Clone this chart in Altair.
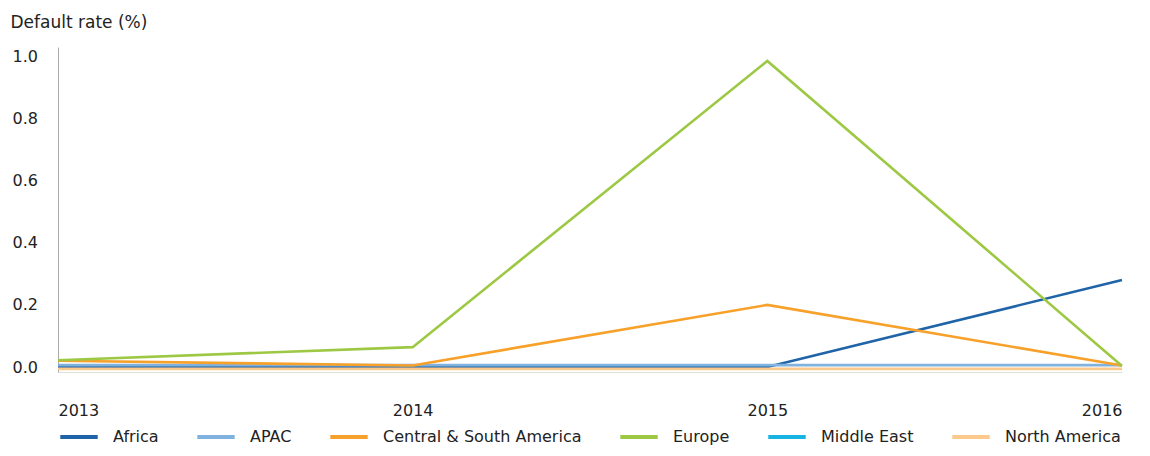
import altair as alt
import pandas as pd

years = [2013, 2014, 2015, 2016]
series = ["Africa", "APAC", "Central & South America", "Europe", "Middle East", "North America"]
colors = ["#1F64A8", "#7FB2DE", "#F7A12B", "#9DC843", "#16B3E3", "#FCC98C"]

africa = [0.0, 0.0, 0.0, 0.28]
apac = [0.006, 0.006, 0.006, 0.006]
csa = [0.02, 0.005, 0.2, 0.005]
europe = [0.022, 0.064, 0.985, 0.003]
north_america = [-0.006, -0.006, -0.006, -0.006]

rows = []
for name, vals in [("Africa", africa), ("APAC", apac), ("Central & South America", csa),
                   ("Europe", europe), ("North America", north_america)]:
    for y, v in zip(years, vals):
        rows.append({"year": y, "region": name, "rate": v, "order": series.index(name)})
df = pd.DataFrame(rows)

FONT = "DejaVu Sans"
FS = 16

chart = alt.Chart(df).mark_line(strokeWidth=2.6).encode(
    x=alt.X("year:Q", scale=alt.Scale(domain=[2013, 2016], nice=False, zero=False),
            axis=alt.Axis(values=years, format="d", title=None, grid=False, ticks=False,
                          labelFlush=True, labelPadding=30, labelFontSize=FS,
                          labelColor="#222", domainColor="#dddddd", labelFont=FONT)),
    y=alt.Y("rate:Q", scale=alt.Scale(domain=[-0.016, 1.03], nice=False, zero=False),
            axis=alt.Axis(values=[0, 0.2, 0.4, 0.6, 0.8, 1.0], format=".1f", grid=False,
                          ticks=False, labelAlign="left", labelPadding=46, labelFontSize=FS,
                          labelColor="#222", domainColor="#aaaaaa", labelFont=FONT,
                          title="Default rate (%)", titleAngle=0, titleX=-48, titleY=-20,
                          titleAlign="left", titleBaseline="alphabetic", titleFontSize=17,
                          titleFontWeight="normal", titleColor="#222", titleFont=FONT)),
    color=alt.Color("region:N", scale=alt.Scale(domain=series, range=colors),
                    legend=alt.Legend(title=None, orient="none", legendX=0, legendY=369,
                                      direction="horizontal", symbolType="stroke",
                                      symbolSize=1400, symbolStrokeWidth=4,
                                      labelFontSize=FS, labelFont=FONT, labelColor="#222",
                                      labelLimit=400, labelOffset=13, columnPadding=30)),
    order=alt.Order("order:Q"),
).properties(
    width=1064, height=325,
    autosize=alt.AutoSizeParams(type="none"),
    padding={"left": 50, "top": 39, "right": 20, "bottom": 76},
).configure_view(stroke=None)

chart.save("out.html", embed_options={"renderer": "svg", "actions": False})
